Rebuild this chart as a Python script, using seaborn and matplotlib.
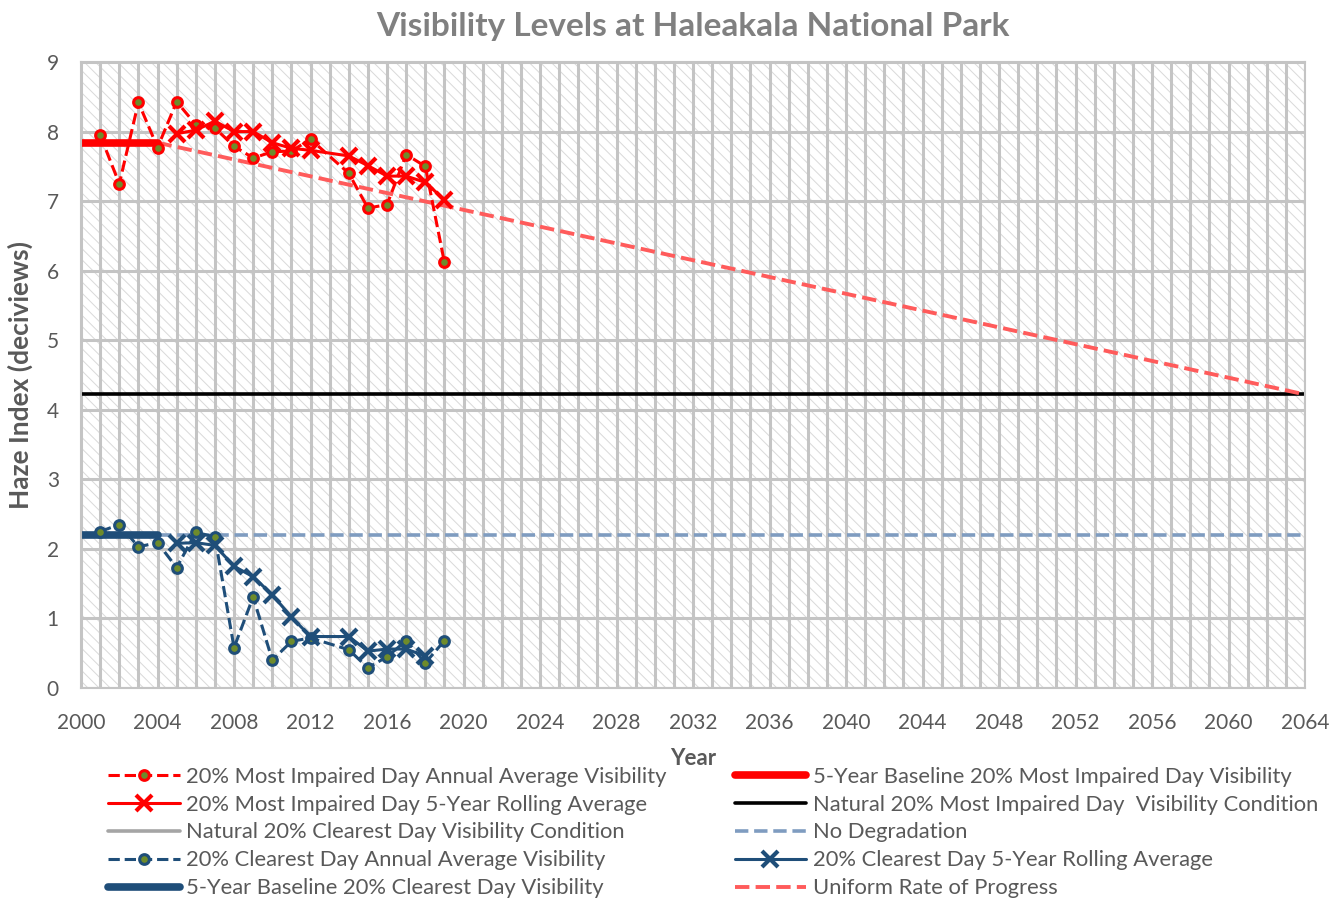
import seaborn as sns
import matplotlib.pyplot as plt
import matplotlib.patches as mpatches
from matplotlib.ticker import MultipleLocator
import pandas as pd

# annual data (2013 missing in the record)
years = [2001, 2002, 2003, 2004, 2005, 2006, 2007, 2008, 2009, 2010,
         2011, 2012, 2014, 2015, 2016, 2017, 2018, 2019]
impaired_annual = [7.95, 7.25, 8.42, 7.77, 8.43, 8.10, 8.05, 7.79, 7.62, 7.71,
                   7.72, 7.89, 7.40, 6.90, 6.95, 7.67, 7.50, 6.12]
clearest_annual = [2.25, 2.35, 2.03, 2.09, 1.73, 2.24, 2.17, 0.58, 1.31, 0.40,
                   0.67, 0.72, 0.55, 0.29, 0.45, 0.68, 0.36, 0.68]

# 5-year rolling averages
roll_years = [2005, 2006, 2007, 2008, 2009, 2010, 2011, 2012, 2014, 2015,
              2016, 2017, 2018, 2019]
impaired_roll = [7.97, 8.02, 8.15, 8.00, 8.00, 7.84, 7.76, 7.73, 7.65, 7.51,
                 7.36, 7.36, 7.27, 7.02]
clear_roll_years = roll_years[:-1]
clearest_roll = [2.08, 2.09, 2.05, 1.75, 1.60, 1.34, 1.02, 0.74, 0.74, 0.53,
                 0.56, 0.56, 0.46]

baseline_years = [2000, 2004]
impaired_baseline = [7.84, 7.84]
clearest_baseline = [2.20, 2.20]

natural_years = [2000, 2064]
natural_impaired = [4.22, 4.22]

nodeg_years = [2004, 2064]
no_degradation = [2.20, 2.20]

urp_years = [2004, 2064]
urp = [7.84, 4.22]

RED = '#FF0000'
NAVY = '#1F4E79'
OLIVE = '#6E8B2B'
GRAY_TXT = '#595959'

sns.set_theme(style='white')
plt.rcParams['font.family'] = ['Lato', 'DejaVu Sans']
plt.rcParams['hatch.linewidth'] = 0.7

fig = plt.figure(figsize=(13.44, 8.99), dpi=100)
ax = fig.add_axes([0.0603, 0.2347, 0.9107, 0.6963])

# hatched plot-area background
ax.add_patch(mpatches.Rectangle((0, 0), 1, 1, transform=ax.transAxes,
                                facecolor='white', edgecolor='#D9D9D9',
                                hatch='\\\\\\', lw=0, zorder=0.1))

sns.lineplot(x=nodeg_years, y=no_degradation, ax=ax, color='#7F9CC0',
             linestyle='--', linewidth=2.6, label='No Degradation')
sns.lineplot(x=natural_years, y=natural_impaired, ax=ax, color='black',
             linewidth=2.6, label='Natural 20% Most Impaired Day  Visibility Condition')
ax.plot([], [], color='#A5A5A5', linewidth=2.6,
        label='Natural 20% Clearest Day Visibility Condition')
sns.lineplot(x=urp_years, y=urp, ax=ax, color='#FF5B5B', linestyle='--',
             linewidth=2.8, label='Uniform Rate of Progress')

sns.lineplot(x=baseline_years, y=impaired_baseline, ax=ax, color=RED,
             linewidth=5.5, label='5-Year Baseline 20% Most Impaired Day Visibility')
sns.lineplot(x=baseline_years, y=clearest_baseline, ax=ax, color=NAVY,
             linewidth=5.5, label='5-Year Baseline 20% Clearest Day Visibility')

sns.lineplot(x=years, y=impaired_annual, ax=ax, color=RED, linestyle='--',
             linewidth=2.2, marker='o', markersize=7, markerfacecolor=OLIVE,
             markeredgecolor=RED, markeredgewidth=2.2,
             label='20% Most Impaired Day Annual Average Visibility')
sns.lineplot(x=roll_years, y=impaired_roll, ax=ax, color=RED, linestyle='-',
             linewidth=2.2, marker='x', markersize=11, markeredgewidth=3,
             markeredgecolor=RED,
             label='20% Most Impaired Day 5-Year Rolling Average')
sns.lineplot(x=years, y=clearest_annual, ax=ax, color=NAVY, linestyle='--',
             linewidth=2.2, marker='o', markersize=7, markerfacecolor=OLIVE,
             markeredgecolor=NAVY, markeredgewidth=2.2,
             label='20% Clearest Day Annual Average Visibility')
sns.lineplot(x=clear_roll_years, y=clearest_roll, ax=ax, color=NAVY, linestyle='-',
             linewidth=2.2, marker='x', markersize=11, markeredgewidth=3,
             markeredgecolor=NAVY,
             label='20% Clearest Day 5-Year Rolling Average')

ax.set_xlim(2000, 2064)
ax.set_ylim(0, 9)
ax.xaxis.set_major_locator(MultipleLocator(4))
ax.xaxis.set_minor_locator(MultipleLocator(1))
ax.yaxis.set_major_locator(MultipleLocator(1))
ax.set_axisbelow(True)
ax.grid(which='both', axis='x', color='#C4C4C4', linewidth=2.2, zorder=0.5)
ax.grid(which='major', axis='y', color='#C4C4C4', linewidth=2.2, zorder=0.5)
for s in ax.spines.values():
    s.set_color('#C4C4C4')
    s.set_linewidth(1.5)
ax.tick_params(axis='both', which='both', length=0, labelsize=15,
               labelcolor=GRAY_TXT)
ax.tick_params(axis='x', pad=18)
ax.tick_params(axis='y', pad=16)

ax.set_title('Visibility Levels at Haleakala National Park', fontsize=24,
             fontweight='bold', color='#808080', pad=19)
ax.set_xlabel('Year', fontsize=16, fontweight='bold', color=GRAY_TXT, labelpad=11)
ax.set_ylabel('Haze Index (deciviews)', fontsize=19, fontweight='bold',
              color=GRAY_TXT, labelpad=10)

handles, labels = ax.get_legend_handles_labels()
lookup = dict(zip(labels, handles))
order = ['20% Most Impaired Day Annual Average Visibility',
         '20% Most Impaired Day 5-Year Rolling Average',
         'Natural 20% Clearest Day Visibility Condition',
         '20% Clearest Day Annual Average Visibility',
         '5-Year Baseline 20% Clearest Day Visibility',
         '5-Year Baseline 20% Most Impaired Day Visibility',
         'Natural 20% Most Impaired Day  Visibility Condition',
         'No Degradation',
         '20% Clearest Day 5-Year Rolling Average',
         'Uniform Rate of Progress']
ax.legend([lookup[k] for k in order], order, ncol=2, frameon=False,
          loc='upper left', bbox_to_anchor=(0.074, 0.157),
          bbox_transform=fig.transFigure, fontsize=15.8, labelcolor=GRAY_TXT,
          handlelength=3.25, handletextpad=0.3, columnspacing=3.1,
          labelspacing=0.36, borderaxespad=0)

fig.savefig('out.png', dpi=100)
